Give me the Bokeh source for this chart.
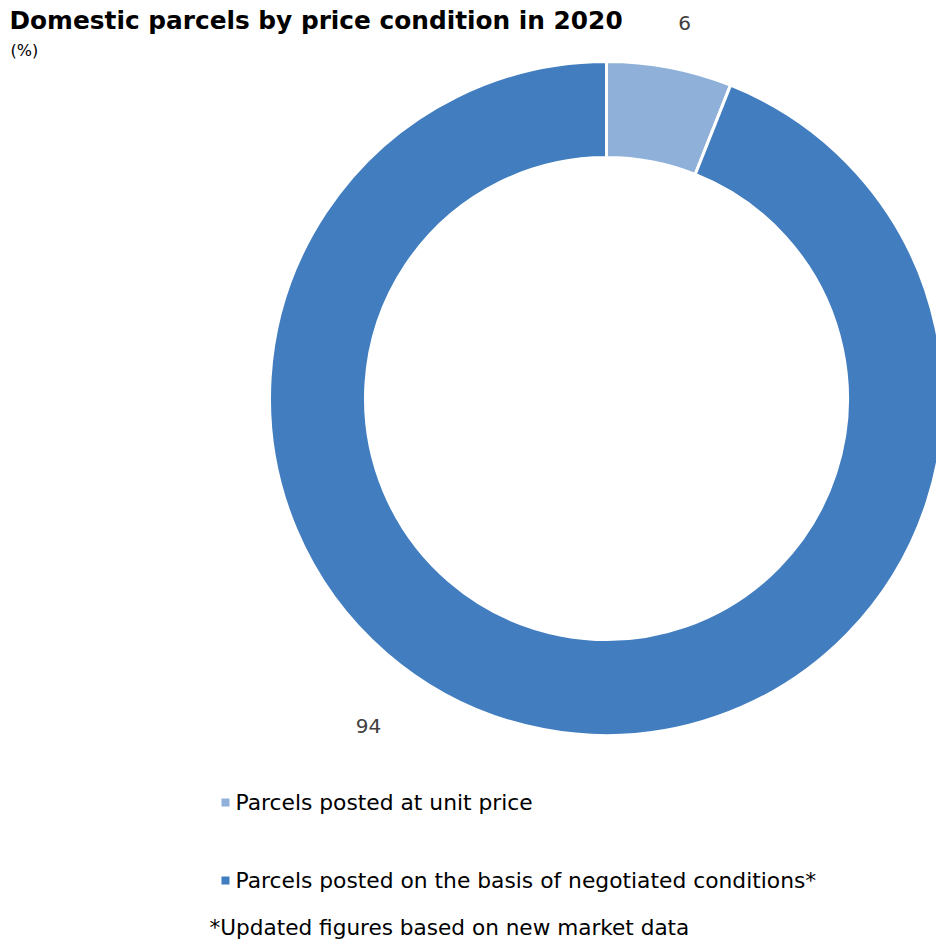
import math
from bokeh.plotting import figure
from bokeh.models import Range1d, ColumnDataSource
from bokeh.core.properties import value
from bokeh.embed import file_html
from bokeh.resources import INLINE

# ---- data ----
categories = ["Parcels posted at unit price",
              "Parcels posted on the basis of negotiated conditions*"]
shares = [6, 94]
colors = ["#8FB1D9", "#417DBF"]
title_text = "Domestic parcels by price condition in 2020"
subtitle_text = "(%)"
footnote_text = "*Updated figures based on new market data"

W, H = 936, 945
FONT = "DejaVu Sans"

def Y(ypix):
    return H - ypix

p = figure(width=W, height=H, output_backend="svg", toolbar_location=None,
           x_range=Range1d(0, W), y_range=Range1d(0, H), min_border=0)
p.axis.visible = False
p.grid.visible = False
p.outline_line_color = None
p.background_fill_color = "white"
p.border_fill_color = "white"

# ---- donut ----
cx, cy = 606, Y(398)
r_out, r_in = 337, 241
total = sum(shares)
starts, ends = [], []
cum = 0.0
for s in shares:
    a0 = math.pi / 2 - 2 * math.pi * cum / total
    cum += s
    a1 = math.pi / 2 - 2 * math.pi * cum / total
    starts.append(a1)
    ends.append(a0)
src = ColumnDataSource(dict(x=[cx] * len(shares), y=[cy] * len(shares),
                            start=starts, end=ends, color=colors))
p.annular_wedge(x="x", y="y", inner_radius=r_in, outer_radius=r_out,
                start_angle="start", end_angle="end", direction="anticlock",
                fill_color="color", line_color="white", line_width=3, source=src)

# ---- value labels ----
lab_x = [684, 368]
lab_y = [Y(22), Y(725)]
p.text(x=lab_x, y=lab_y, text=[str(s) for s in shares],
       text_font=value(FONT), text_font_size="20px", text_color="#404040",
       text_align="center", text_baseline="middle")

# ---- title ----
p.text(x=[9], y=[Y(20)], text=[title_text], text_font=value(FONT),
       text_font_size="24.8px", text_font_style="bold", text_color="black",
       text_align="left", text_baseline="middle")
p.text(x=[10], y=[Y(50)], text=[subtitle_text], text_font=value(FONT),
       text_font_size="16px", text_color="black",
       text_align="left", text_baseline="middle")

# ---- legend ----
leg_y = [Y(802), Y(880)]
p.rect(x=[225, 225], y=leg_y, width=8, height=8, fill_color=colors, line_color=None)
p.text(x=[235, 235], y=leg_y, text=categories, text_font=value(FONT),
       text_font_size="21.8px", text_color="black",
       text_align="left", text_baseline="middle")
p.text(x=[209], y=[Y(927)], text=[footnote_text], text_font=value(FONT),
       text_font_size="21.6px", text_color="black",
       text_align="left", text_baseline="middle")

open("out.html", "w").write(file_html(p, INLINE))
